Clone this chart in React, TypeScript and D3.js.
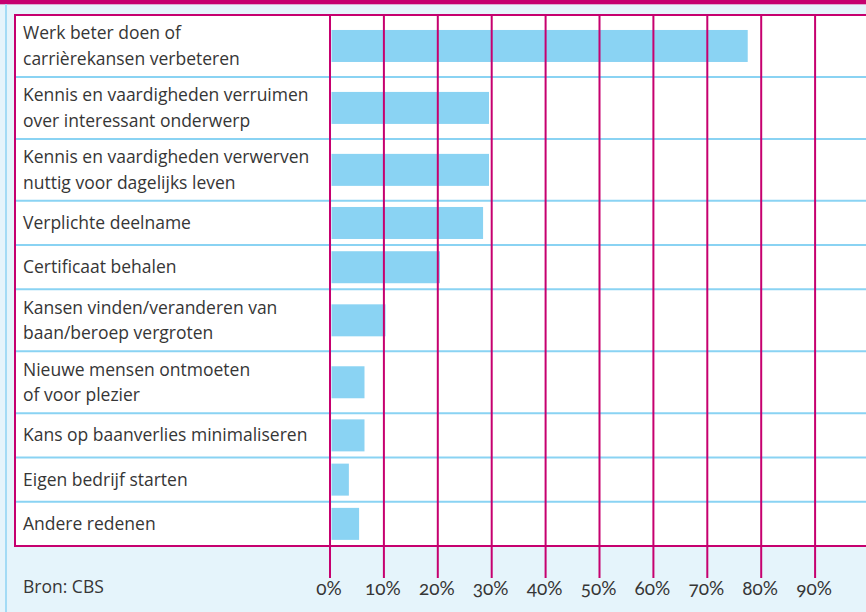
import { useEffect, useRef } from "react";
import * as d3 from "d3";

// redenen voor het volgen van een cursus (aandeel in %)
const categories: string[] = [
  "Werk beter doen of\ncarrièrekansen verbeteren",
  "Kennis en vaardigheden verruimen\nover interessant onderwerp",
  "Kennis en vaardigheden verwerven\nnuttig voor dagelijks leven",
  "Verplichte deelname",
  "Certificaat behalen",
  "Kansen vinden/veranderen van\nbaan/beroep vergroten",
  "Nieuwe mensen ontmoeten\nof voor plezier",
  "Kans op baanverlies minimaliseren",
  "Eigen bedrijf starten",
  "Andere redenen",
];
const values: number[] = [77.5, 29.5, 29.5, 28.4, 20.4, 10.3, 6.4, 6.4, 3.5, 5.4];
const ticks: number[] = [0, 10, 20, 30, 40, 50, 60, 70, 80, 90];
const source = "Bron: CBS";

const W = 866;
const H = 612;
const MAGENTA = "#c6006f";
const BLUE = "#8ad3f3";
const BG = "#e5f4fb";
const TEXT = "#363636";
const FONT = "'Open Sans', 'Noto Sans', sans-serif";

function App() {
  const ref = useRef<SVGSVGElement | null>(null);

  useEffect(() => {
    const svg = d3.select(ref.current);
    svg.selectAll("*").remove();

    const box = { left: 15, top: 15, bottom: 546 };
    const x = d3.scaleLinear().domain([0, 100]).range([330, 869]);

    // rijhoogte hangt af van het aantal regels in het label
    const units = categories.map((c) => (c.split("\n").length > 1 ? 1.4 : 1));
    const starts = [0, ...Array.from(d3.cumsum(units))];
    const y = d3.scaleLinear().domain([0, d3.sum(units)]).range([box.top, box.bottom]);
    const barH = 32;

    // achtergrond
    svg.append("rect").attr("width", W).attr("height", H).attr("fill", BG);
    svg.append("rect").attr("width", W).attr("height", 4.3).attr("fill", MAGENTA);
    svg
      .append("line")
      .attr("x1", 6)
      .attr("x2", 6)
      .attr("y1", 4)
      .attr("y2", H)
      .attr("stroke", "#a3dbf5")
      .attr("stroke-width", 2);

    // wit vlak met rand
    svg
      .append("rect")
      .attr("x", box.left)
      .attr("y", box.top)
      .attr("width", W - box.left + 5)
      .attr("height", box.bottom - box.top)
      .attr("fill", "#fff")
      .attr("stroke", MAGENTA)
      .attr("stroke-width", 2);

    // balken
    svg
      .append("g")
      .selectAll("rect")
      .data(values)
      .enter()
      .append("rect")
      .attr("x", x(0) + 1.5)
      .attr("y", (d, i) => (y(starts[i]) + y(starts[i + 1])) / 2 - barH / 2)
      .attr("width", (d) => x(d) - x(0) - 1.5)
      .attr("height", barH)
      .attr("fill", BLUE);

    // scheidingslijnen tussen rijen
    svg
      .append("g")
      .selectAll("line")
      .data(starts.slice(1, -1))
      .enter()
      .append("line")
      .attr("x1", box.left + 1)
      .attr("x2", W)
      .attr("y1", (d) => y(d))
      .attr("y2", (d) => y(d))
      .attr("stroke", BLUE)
      .attr("stroke-width", 2);

    // verticale rasterlijnen
    svg
      .append("g")
      .selectAll("line")
      .data(ticks)
      .enter()
      .append("line")
      .attr("x1", (d) => x(d))
      .attr("x2", (d) => x(d))
      .attr("y1", box.top)
      .attr("y2", 578)
      .attr("stroke", MAGENTA)
      .attr("stroke-width", 2);

    // onderrand opnieuw over de lijnen
    svg
      .append("line")
      .attr("x1", box.left)
      .attr("x2", W)
      .attr("y1", box.bottom)
      .attr("y2", box.bottom)
      .attr("stroke", MAGENTA)
      .attr("stroke-width", 2);

    // labels
    const lineH = 25.5;
    const labels = svg
      .append("g")
      .attr("font-family", FONT)
      .attr("font-size", 17.5)
      .attr("fill", TEXT)
      .selectAll("text")
      .data(categories)
      .enter()
      .append("text")
      .attr("x", 23)
      .attr("y", (d, i) => {
        const n = d.split("\n").length;
        const mid = (y(starts[i]) + y(starts[i + 1])) / 2;
        return mid - ((n - 1) * lineH) / 2 + 6;
      });
    labels
      .selectAll("tspan")
      .data((d) => d.split("\n"))
      .enter()
      .append("tspan")
      .attr("x", 23)
      .attr("dy", (d, i) => (i === 0 ? 0 : lineH))
      .text((d) => d);

    // tick labels (mediaeval cijfers waar het font ze heeft)
    svg
      .append("g")
      .attr("font-family", "Lato, 'Open Sans', sans-serif")
      .attr("font-size", 19)
      .attr("fill", TEXT)
      .style("font-variant-numeric", "oldstyle-nums")
      .style("font-feature-settings", "'onum' 1")
      .selectAll("text")
      .data(ticks)
      .enter()
      .append("text")
      .attr("x", (d) => x(d) - 1)
      .attr("y", 595)
      .attr("text-anchor", "middle")
      .text((d) => `${d}%`);

    svg
      .append("text")
      .attr("x", 23)
      .attr("y", 593)
      .attr("font-family", FONT)
      .attr("font-size", 17.5)
      .attr("fill", TEXT)
      .text(source);
  }, []);

  return (
    <svg
      ref={ref}
      width={W}
      height={H}
      style={{ position: "absolute", left: 0, top: 0 }}
    />
  );
}

export default App;
